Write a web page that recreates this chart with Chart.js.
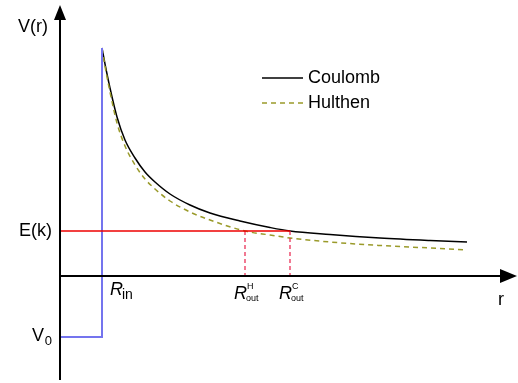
<!DOCTYPE html>
<html>
<head>
<meta charset="utf-8">
<script src="https://cdn.jsdelivr.net/npm/chart.js@4/dist/chart.umd.min.js"></script>
<style>
  html, body { margin: 0; padding: 0; background: #fff; }
  #wrap { width: 518px; height: 383px; }
</style>
</head>
<body>
<div id="wrap"><canvas id="potChart" width="518" height="383"></canvas></div>
<script>
// radius values (arbitrary units) and potentials
const coulombR = [4.2, 4.5, 5.0, 5.7, 6.5, 7.5, 8.5, 9.5, 11.0, 13.0, 15.0, 18.0, 21.0, 23.0, 27.0, 32.0, 37.0, 40.7];
const coulombV = [22.8, 21.2, 18.8, 15.9, 13.6, 11.8, 10.4, 9.4, 8.2, 7.1, 6.3, 5.5, 4.85, 4.5, 4.15, 3.8, 3.55, 3.4];
const hulthenR = [4.2, 4.5, 5.0, 5.7, 6.5, 7.5, 8.5, 9.5, 11.0, 13.0, 15.0, 18.5, 21.0, 23.0, 27.0, 32.0, 37.0, 40.7];
const hulthenV = [22.8, 21.0, 18.4, 15.3, 13.0, 11.1, 9.7, 8.7, 7.5, 6.4, 5.6, 4.5, 4.1, 3.8, 3.4, 3.05, 2.8, 2.6];

const rIn = 4.2;
const rOutH = 18.5;
const rOutC = 23.0;
const energyK = 4.5;
const wellV0 = -6.1;
const peakV = 22.8;

const rRange = [0, 45.7];
const vRange = [-10.4, 27.1];

const FONT = '"Liberation Sans", Arial, sans-serif';

function pts(rs, vs) {
  return rs.map((r, i) => ({ x: r, y: vs[i] }));
}

// axes with arrows, axis labels and the legend
const decorPlugin = {
  id: "decor",
  afterDatasetsDraw(chart) {
    const c = chart.ctx;
    const xs = chart.scales.x;
    const ys = chart.scales.y;
    const ox = xs.getPixelForValue(0);
    const oy = ys.getPixelForValue(0);
    const top = ys.getPixelForValue(vRange[1]);
    const bottom = ys.getPixelForValue(vRange[0]);
    const right = xs.getPixelForValue(rRange[1]);

    c.save();
    c.strokeStyle = "#000";
    c.fillStyle = "#000";
    c.lineWidth = 2;
    // y axis
    c.beginPath();
    c.moveTo(ox, bottom);
    c.lineTo(ox, top + 10);
    c.stroke();
    c.beginPath();
    c.moveTo(ox, top);
    c.lineTo(ox - 6, top + 15);
    c.lineTo(ox + 6, top + 15);
    c.closePath();
    c.fill();
    // x axis
    c.beginPath();
    c.moveTo(ox, oy);
    c.lineTo(right - 10, oy);
    c.stroke();
    c.beginPath();
    c.moveTo(right, oy);
    c.lineTo(right - 17, oy - 7);
    c.lineTo(right - 17, oy + 7);
    c.closePath();
    c.fill();

    c.textBaseline = "middle";
    c.font = "18px " + FONT;
    c.textAlign = "right";
    c.fillText("V(r)", ox - 12, 27);
    c.fillText("E(k)", ox - 8, ys.getPixelForValue(energyK));
    // V0
    const v0y = ys.getPixelForValue(wellV0);
    c.font = "13px " + FONT;
    c.fillText("0", ox - 8, v0y + 4);
    c.font = "18px " + FONT;
    c.fillText("V", ox - 16, v0y - 1);

    c.textAlign = "left";
    c.fillText("r", 498, 300);

    // R_in
    let x = xs.getPixelForValue(rIn) + 8;
    c.font = "italic 18px " + FONT;
    c.fillText("R", x, 290);
    c.font = "14px " + FONT;
    c.fillText("in", x + 12, 295);

    // R_out labels
    function rOut(val, sup) {
      const px = xs.getPixelForValue(val) - 11;
      c.font = "italic 18px " + FONT;
      c.fillText("R", px, 294);
      c.font = "9px " + FONT;
      c.fillText(sup, px + 13, 287);
      c.fillText("out", px + 12, 299);
    }
    rOut(rOutH, "H");
    rOut(rOutC, "C");

    // legend
    c.font = "18px " + FONT;
    c.lineWidth = 1.5;
    c.strokeStyle = "#000";
    c.beginPath();
    c.moveTo(262, 78);
    c.lineTo(303, 78);
    c.stroke();
    c.fillText("Coulomb", 308, 78);
    c.strokeStyle = "#9a9a2a";
    c.setLineDash([5, 4]);
    c.beginPath();
    c.moveTo(262, 103);
    c.lineTo(303, 103);
    c.stroke();
    c.setLineDash([]);
    c.fillText("Hulthen", 308, 103);
    c.restore();
  }
};

const ctx = document.getElementById("potChart").getContext("2d");
const potChart = new Chart(ctx, {
  type: "scatter",
  data: {
    datasets: [
      {
        label: "E(k)",
        data: [{ x: 0, y: energyK }, { x: rOutC, y: energyK }],
        showLine: true,
        borderColor: "#ee0000",
        borderWidth: 1.4,
      },
      {
        label: "Rout H",
        data: [{ x: rOutH, y: energyK }, { x: rOutH, y: 0 }],
        showLine: true,
        borderColor: "#e8204a",
        borderWidth: 1.2,
        borderDash: [4, 3],
      },
      {
        label: "Rout C",
        data: [{ x: rOutC, y: energyK }, { x: rOutC, y: 0 }],
        showLine: true,
        borderColor: "#e8204a",
        borderWidth: 1.2,
        borderDash: [4, 3],
      },
      {
        label: "Well",
        data: [{ x: 0, y: wellV0 }, { x: rIn, y: wellV0 }, { x: rIn, y: peakV }],
        showLine: true,
        borderColor: "#7474ee",
        borderWidth: 2,
      },
      {
        label: "Hulthen",
        data: pts(hulthenR, hulthenV),
        showLine: true,
        borderColor: "#9a9a2a",
        borderWidth: 1.5,
        borderDash: [5, 4],
        cubicInterpolationMode: "monotone",
      },
      {
        label: "Coulomb",
        data: pts(coulombR, coulombV),
        showLine: true,
        borderColor: "#000",
        borderWidth: 1.5,
        cubicInterpolationMode: "monotone",
      },
    ],
  },
  options: {
    responsive: false,
    animation: false,
    layout: { padding: { left: 60, right: 1, top: 5, bottom: 3 } },
    elements: { point: { radius: 0 } },
    scales: {
      x: { type: "linear", display: false, min: rRange[0], max: rRange[1] },
      y: { type: "linear", display: false, min: vRange[0], max: vRange[1] },
    },
    plugins: { legend: { display: false }, tooltip: { enabled: false } },
  },
  plugins: [decorPlugin],
});
</script>
</body>
</html>
